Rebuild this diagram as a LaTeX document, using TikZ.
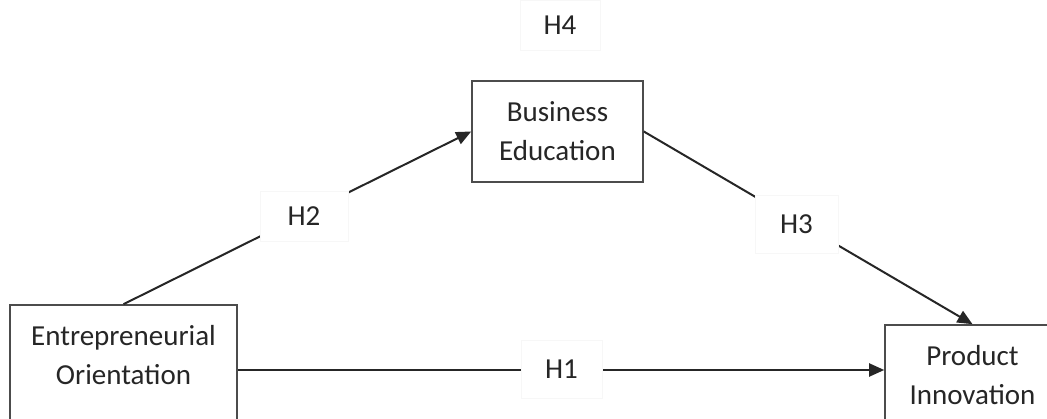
\documentclass[tikz,border=0pt]{standalone}
\usepackage{fontspec}
\setmainfont{Carlito}
\usetikzlibrary{arrows.meta}

\begin{document}
\begin{tikzpicture}[x=1pt,y=-1pt,line width=2pt,black!85,
    box/.style={draw=black!70,line width=1.6pt,fill=white,inner sep=0pt},
    txt/.style={align=center,font=\fontsize{29}{39}\selectfont,text=black!85,inner sep=0pt},
    hyp/.style={fill=white,draw=black!3,line width=0.6pt,font=\fontsize{29}{34}\selectfont,text=black!85},
    arr/.style={-{Triangle[length=15pt,width=13pt]}}]
    \useasboundingbox (0,0) rectangle (1047,419);
    \clip (0,0) rectangle (1047,419);
    \node[box,minimum width=227pt,minimum height=130pt] (eo) at (123.5,370) {};
    \node[txt] (eotext) at (123.5,355) {Entrepreneurial\\Orientation};
    \node[box,txt,draw=black!70,minimum width=171pt,minimum height=101pt] (be) at (557.5,131.5) {Business\\Education};
    \node[box,txt,draw=black!70,minimum width=175pt,minimum height=100pt] (pi) at (972.5,375) {Product\\Innovation};
    \draw[arr] (eo.north) -- (be.west);
    \draw[arr] (be.east) -- (pi.north);
    \draw[arr] (eo.east) -- (eo.east -| pi.west);
    \node[hyp,minimum width=80pt,minimum height=50pt] (h4) at (560,25) {H4};
    \node[hyp,minimum width=88pt,minimum height=50pt] (h2) at (304,216) {H2};
    \node[hyp,minimum width=83pt,minimum height=58pt] (h3) at (796.5,224) {H3};
    \node[hyp,minimum width=81pt,minimum height=58pt] (h1) at (561.5,369) {H1};
\end{tikzpicture}
\end{document}
